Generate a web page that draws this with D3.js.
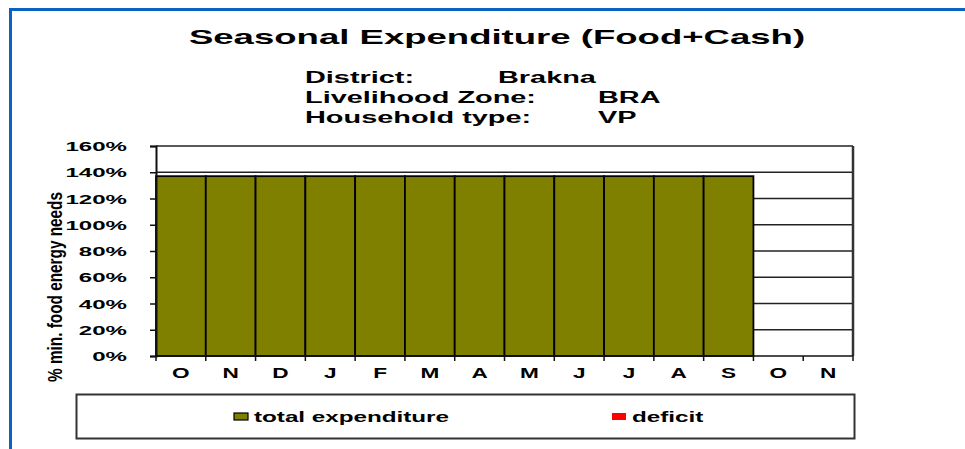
<!DOCTYPE html>
<html>
<head>
<meta charset="utf-8">
<script src="https://cdn.jsdelivr.net/npm/d3@7"></script>
<style>
  body { margin: 0; background: #fff; }
  text { font-family: Arial, "Liberation Sans", sans-serif; font-weight: bold; fill: #000; }
</style>
</head>
<body>
<div id="chart"></div>
<script>
// chart data
var months = ['O', 'N', 'D', 'J', 'F', 'M', 'A', 'M', 'J', 'J', 'A', 'S', 'O', 'N'];
var totalExpenditure = [1.37, 1.37, 1.37, 1.37, 1.37, 1.37, 1.37, 1.37, 1.37, 1.37, 1.37, 1.37, null, null];
var deficit = [0, 0, 0, 0, 0, 0, 0, 0, 0, 0, 0, 0, null, null];
var yTicks = [0, 0.2, 0.4, 0.6, 0.8, 1.0, 1.2, 1.4, 1.6];
var seriesNames = ['total expenditure', 'deficit'];
var seriesColors = ['#808000', '#ff0000'];
var infoLabels = ['District:', 'Livelihood Zone:', 'Household type:'];
var infoValues = ['Brakna', 'BRA', 'VP'];

var width = 965, height = 449;

var svg = d3.select('#chart').append('svg')
	.attr('width', width)
	.attr('height', height);

// stretched text helper (the original fonts are rendered wide)
function label(parent, x, y, str, size, sx, anchor) {
	return parent.append('text')
		.attr('transform', 'translate(' + x + ',' + y + ') scale(' + sx + ',1)')
		.attr('text-anchor', anchor || 'start')
		.style('font-size', size + 'px')
		.text(str);
}

// blue frame
svg.append('path')
	.attr('d', 'M10.5,' + height + 'V9.5H' + width)
	.attr('fill', 'none')
	.attr('stroke', '#0b62c4')
	.attr('stroke-width', 3);

label(svg, 497, 44, 'Seasonal Expenditure (Food+Cash)', 21, 1.74, 'middle');

infoLabels.forEach(function(d, i) {
	label(svg, 305, 83 + i * 20, d, 17, 1.7);
});
infoValues.forEach(function(d, i) {
	label(svg, i == 0 ? 498 : 598, 83 + i * 20, d, 17, 1.7);
});

var x = d3.scaleBand().domain(d3.range(months.length)).range([156, 853]).padding(0);
var y = d3.scaleLinear().domain([0, 1.6]).range([356, 146]);

// gridlines
svg.append('g').selectAll('line')
	.data(yTicks.slice(1))
	.enter().append('line')
	.attr('x1', 156).attr('x2', 853)
	.attr('y1', function(d) { return y(d); })
	.attr('y2', function(d) { return y(d); })
	.attr('stroke', '#222')
	.attr('stroke-width', 1.5);

// bars
svg.append('g').selectAll('rect')
	.data(totalExpenditure.map(function(v, i) { return {i: i, v: v}; }).filter(function(d) { return d.v != null && d.v > 0; }))
	.enter().append('rect')
	.attr('x', function(d) { return x(d.i); })
	.attr('y', function(d) { return y(d.v); })
	.attr('width', x.bandwidth())
	.attr('height', function(d) { return y(0) - y(d.v); })
	.attr('fill', seriesColors[0])
	.attr('stroke', '#000')
	.attr('stroke-width', 1.8);

svg.append('g').selectAll('rect')
	.data(deficit.map(function(v, i) { return {i: i, v: v}; }).filter(function(d) { return d.v != null && d.v > 0; }))
	.enter().append('rect')
	.attr('x', function(d) { return x(d.i); })
	.attr('y', function(d) { return y(totalExpenditure[d.i] + d.v); })
	.attr('width', x.bandwidth())
	.attr('height', function(d) { return y(0) - y(d.v); })
	.attr('fill', seriesColors[1]);

// right border
svg.append('line')
	.attr('x1', 853).attr('x2', 853)
	.attr('y1', y(1.6)).attr('y2', y(0))
	.attr('stroke', '#333')
	.attr('stroke-width', 2.5);

// y axis
var yAxis = svg.append('g')
	.attr('transform', 'translate(156,0)')
	.call(d3.axisLeft(y).tickValues(yTicks).tickFormat(d3.format('.0%')).tickSizeOuter(0).tickSize(6));
yAxis.select('.domain').attr('stroke', '#111').attr('stroke-width', 2);
yAxis.selectAll('.tick line').attr('stroke', '#111').attr('stroke-width', 1.5);
yAxis.selectAll('.tick text')
	.attr('x', null)
	.attr('dy', '0.36em')
	.attr('transform', 'translate(-29,0) scale(1.85,1)')
	.style('font-size', '13px')
	.style('font-family', 'Arial, "Liberation Sans", sans-serif');

// x axis with ticks between bands
var xAxis = svg.append('g')
	.attr('transform', 'translate(0,' + y(0) + ')');
xAxis.append('line')
	.attr('x1', 156).attr('x2', 853)
	.attr('stroke', '#111').attr('stroke-width', 1.5);
xAxis.selectAll('.bt')
	.data(d3.range(months.length + 1))
	.enter().append('line')
	.attr('class', 'bt')
	.attr('x1', function(d) { return d < months.length ? x(d) : x.range()[1]; })
	.attr('x2', function(d) { return d < months.length ? x(d) : x.range()[1]; })
	.attr('y1', 0).attr('y2', 5)
	.attr('stroke', '#111').attr('stroke-width', 1.5);
months.forEach(function(m, i) {
	label(xAxis, x(i) + x.bandwidth() / 2, 22, m, 14.5, 1.56, 'middle');
});

// y axis title
svg.append('text')
	.attr('transform', 'translate(62,287) rotate(-90)')
	.attr('text-anchor', 'middle')
	.attr('textLength', 190)
	.attr('lengthAdjust', 'spacingAndGlyphs')
	.style('font-family', '"Liberation Sans Narrow", "Arial Narrow", Arial, sans-serif')
	.style('font-size', '21px')
	.text('% min. food energy needs');

// legend
svg.append('rect')
	.attr('x', 76.5).attr('y', 394.5)
	.attr('width', 778).attr('height', 44)
	.attr('fill', '#fff')
	.attr('stroke', '#333')
	.attr('stroke-width', 2);

var legendX = [234, 612];
var legend = svg.selectAll('.legend')
	.data(seriesNames)
	.enter().append('g')
	.attr('class', 'legend')
	.attr('transform', function(d, i) { return 'translate(' + legendX[i] + ',413)'; });

legend.append('rect')
	.attr('width', 14)
	.attr('height', 7)
	.attr('fill', function(d, i) { return seriesColors[i]; })
	.attr('stroke', function(d, i) { return i == 0 ? '#000' : 'none'; })
	.attr('stroke-width', 1.2);

legend.each(function(d) {
	label(d3.select(this), 20, 9, d, 14, 1.73);
});
</script>
</body>
</html>
